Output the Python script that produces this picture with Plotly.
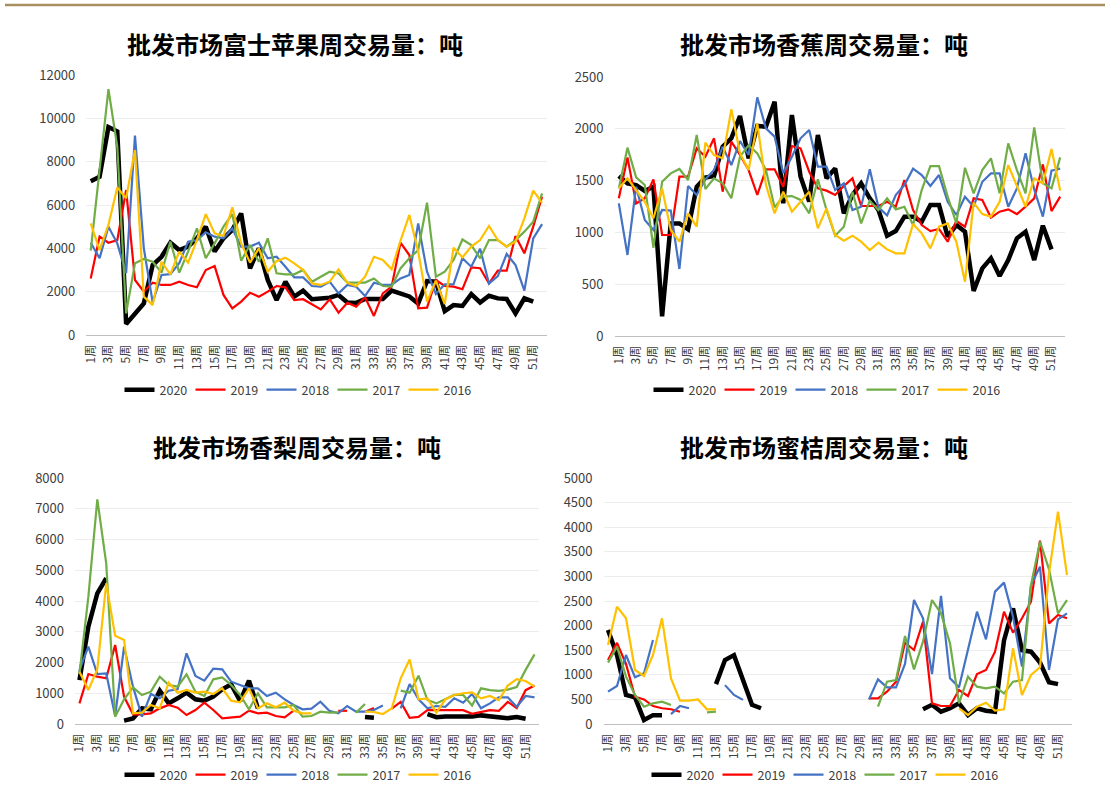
import plotly.graph_objects as go

# ---------------- data ----------------
weeks = [f"{i}周" for i in range(1, 53)]
tick_labels = weeks[::2]
years = ["2020", "2019", "2018", "2017", "2016"]
N = None

apple_2020 = [7100, 7300, 9600, 9400, 510, 1000, 1460, 3230, 3610, 4260, 3920, 4080, 4460, 5000, 3850, 4460, 4850, 5610, 3080, 4000,
              2540, 1610, 2460, 1770, 2050, 1650, 1660, 1720, 1850, 1500, 1480, 1660, 1660, 1660, 2050, 1900, 1780, 1450, 2490, 2460,
              1100, 1380, 1340, 1890, 1500, 1810, 1690, 1660, 1000, 1690, 1540, N]
apple_2019 = [2610, 4540, 4260, 4380, 6690, 2540, 2000, 2410, 2310, 2310, 2460, 2310, 2200, 3000, 3180, 1850, 1230, 1540, 1950, 1770,
              2000, 2260, 2200, 1610, 1650, 1400, 1180, 1650, 1030, 1490, 1310, 1740, 880, 1920, 2230, 4260, 3690, 1230, 1260, 2540,
              2260, 2230, 2110, 3120, 3080, 2380, 2970, 2970, 4570, 3770, 5000, 6380]
apple_2018 = [4260, 3540, 5000, 4230, 2850, 9200, 4000, 1500, 2770, 2810, 3310, 4310, 4380, 4740, 4540, 4460, 4920, 4080, 4080, 4260,
              3540, 3610, 3150, 2660, 2660, 2260, 2230, 2460, 1920, 2310, 2230, 1800, 2410, 2310, 2310, 2610, 2770, 5150, 2920, 1890,
              2340, 2350, 3540, 3150, 3980, 2380, 2720, 3740, 3230, 2050, 4460, 5120]
apple_2017 = [3890, 7500, 11350, 8690, 1000, 3310, 3510, 3380, 2880, 4310, 2880, 3850, 4920, 3540, 4230, 5000, 5580, 3430, 4150, 3380,
              4460, 2850, 2800, 2800, 3000, 2460, 2690, 2920, 2840, 2420, 2420, 2420, 2610, 2260, 2230, 3070, 3540, 3920, 6110, 2690,
              2920, 3460, 4410, 4150, 3540, 4380, 4380, 4080, 4380, 4770, 5230, 6540]
apple_2016 = [5150, 3920, 5080, 6810, 6310, 8540, 1770, 1380, 3380, 2800, 3850, 3340, 4380, 5580, 4690, 4570, 5890, 4230, 3340, 4000,
              2920, 3410, 3570, 3310, 3000, 2380, 2310, 2460, 3030, 2410, 2260, 2690, 3610, 3460, 3030, 4350, 5540, 3850, 1540, 2510,
              1430, 4030, 3580, 4080, 4380, 5030, 4380, 4080, 4310, 5380, 6660, 6100]

banana_2020 = [1544, 1473, 1457, 1400, 1440, 190, 1087, 1087, 1030, 1440, 1530, 1544, 1827, 1908, 2123, 1715, 2027, 2020, 2262, 1280,
               2133, 1538, 1297, 1940, 1522, 1618, 1184, 1361, 1473, 1329, 1216, 968, 1013, 1152, 1152, 1103, 1264, 1264, 959, 1071,
               1007, 434, 653, 750, 579, 733, 943, 1007, 733, 1065, 836, N]
banana_2019 = [1329, 1724, 1280, 1329, 1512, 975, 975, 1538, 1538, 1811, 1731, 1908, 1393, 1876, 1747, 1602, 1361, 1609, 1609, 1441,
               1834, 1811, 1586, 1425, 1403, 1361, 1448, 1522, 1255, 1255, 1255, 1296, 1248, 1506, 1216, 1071, 1013, 1033, 910, 1110,
               1055, 1329, 1313, 1142, 1200, 1222, 1177, 1248, 1329, 1657, 1206, 1345]
banana_2018 = [1280, 782, 1441, 1119, 1023, 1216, 1210, 647, 1448, 1361, 1512, 1602, 1827, 1650, 1882, 1747, 2303, 2004, 1924, 1570,
               1731, 1908, 1988, 1634, 1634, 1409, 1473, 1216, 1248, 1609, 1242, 1165, 1361, 1457, 1615, 1554, 1448, 1554, 1296, 1168,
               1345, 1248, 1489, 1570, 1570, 1248, 1425, 1763, 1415, 1152, 1596, 1615]
banana_2017 = [1425, 1818, 1531, 1457, 852, 1489, 1570, 1612, 1506, 1940, 1419, 1522, 1473, 1329, 1731, 1843, 1763, 1602, 1242, 1345,
               1351, 1313, 1184, 1512, 1216, 968, 1055, 1393, 1087, 1306, 1216, 1329, 1222, 1248, 1071, 1409, 1640, 1640, 1345, 1087,
               1624, 1377, 1602, 1715, 1377, 1859, 1602, 1377, 2014, 1473, 1425, 1724]
banana_2016 = [1425, 1522, 1409, 1296, 1136, 1425, 1023, 910, 1184, 1055, 1866, 1747, 1715, 2188, 1763, 1602, 2052, 1457, 1184, 1393,
               1200, 1296, 1393, 1039, 1232, 975, 920, 968, 910, 830, 901, 836, 798, 798, 1081, 991, 846, 1055, 1087, 910,
               524, 1287, 1177, 1152, 1296, 1650, 1457, 1248, 1522, 1473, 1805, 1403]

pear_2020 = [1430, 3165, 4250, 4740, N, 110, 180, 510, 477, 1084, 672, 835, 1019, 802, 759, 889, 1127, 1290, 748, 1409,
             509, N, N, N, N, N, N, N, N, N, N, N, 228, 200, N, N, N, N, N, 320,
             220, 240, 240, 240, 240, 280, 240, 200, 190, 230, 170, N]
pear_2019 = [672, 1626, 1539, 1485, 2569, 889, 314, 314, 347, 509, 618, 531, 293, 455, 694, 455, 184, 217, 238, 434,
             347, 369, 260, 217, 434, N, N, N, N, 430, 430, N, 400, 520, N, 500, 720, 200, 230, 450,
             450, 450, 450, 450, 330, 380, 450, 430, 720, 520, 1100, 1250]
pear_2018 = [1756, 2515, 1626, 1648, 260, 2515, 1214, 238, 976, 835, 1084, 1127, 2298, 1561, 1409, 1800, 1778, 1377, 1268, 1160,
             1160, 911, 1019, 802, 618, 477, 499, 727, 433, 347, 585, 400, 400, 455, 600, N, 510, 1300, 800, 510,
             585, 560, 835, 690, 975, 510, 670, 867, 867, 560, 910, 867]
pear_2017 = [1626, 4140, 7306, 5225, 238, 802, 1192, 943, 1051, 1539, 1268, 1214, 1615, 1051, 911, 1453, 1518, 1268, 943, 477,
             997, 542, 542, 542, 618, 238, 260, 400, 370, 380, N, 370, 650, N, N, N, 1084, 1020, 1570, 780,
             670, 800, 945, 945, 600, 1160, 1100, 1080, 1120, 1200, 1760, 2265]
pear_2016 = [1702, 1106, 1778, 4575, 2873, 2732, 347, 369, 618, 509, 1344, 1019, 1106, 1019, 1051, 976, 1160, 759, 705, 1160,
             509, 672, 542, 694, 434, 347, 347, N, N, N, N, N, 400, 390, 325, 510, 1485, 2100, 800, 835,
             370, 800, 945, 1000, 1030, 835, 910, 780, 1250, 1460, 1400, 1215]

mandarin_2020 = [1910, 1400, 590, 540, 80, 180, 180, N, N, N, N, N, 810, 1300, 1400, 900, 390, 320, N, N,
                 N, N, N, N, N, N, N, N, N, N, N, N, N, N, N, 300, 390, 250, 320, 420,
                 180, 320, 270, 250, 1700, 2350, 1500, 1470, 1250, 850, 810, N]
mandarin_2019 = [1300, 1650, 1220, 555, 500, 365, 320, 300, 250, N, N, N, N, N, N, N, N, N, N, N,
                 N, N, N, N, N, N, N, N, N, 522, 522, 657, 860, 1653, 1504, 2080, 420, 366, 366, 691,
                 569, 1016, 1098, 1470, 2283, 1856, 2148, 2486, 3726, 2046, 2215, 2148]
mandarin_2018 = [657, 772, 1402, 948, 1030, 1707, N, 200, 365, 320, N, N, N, 790, 590, 490, N, N, N, N,
                 N, N, N, N, N, N, N, N, N, 500, 908, 745, 745, 1220, 2520, 2148, 1016, 2602, 928, 745,
                 1504, 2283, 1721, 2690, 2873, 2182, 1165, 2825, 3198, 1098, 2127, 2249]
mandarin_2017 = [1247, 1572, 962, 590, 352, 420, 454, 386, N, N, N, 237, 250, N, N, N, N, N, N, N,
                 N, N, N, N, N, N, N, N, N, N, 352, 860, 894, 1789, 1111, 1673, 2520, 2249, 1640, 420,
                 962, 759, 725, 759, 623, 860, 894, 2825, 3706, 3144, 2249, 2520]
mandarin_2016 = [1606, 2385, 2148, 1098, 976, 1402, 2148, 928, 474, 474, 500, 298, 298, N, N, N, N, N, N, N,
                 N, N, N, N, N, N, N, N, N, N, N, N, N, N, N, N, N, N, N, 320,
                 183, 352, 433, 271, 298, 1538, 589, 996, 1152, 3062, 4316, 3028]

titles = ["批发市场富士苹果周交易量：吨", "批发市场香蕉周交易量：吨",
          "批发市场香梨周交易量：吨", "批发市场蜜桔周交易量：吨"]
panels = [
    [apple_2020, apple_2019, apple_2018, apple_2017, apple_2016],
    [banana_2020, banana_2019, banana_2018, banana_2017, banana_2016],
    [pear_2020, pear_2019, pear_2018, pear_2017, pear_2016],
    [mandarin_2020, mandarin_2019, mandarin_2018, mandarin_2017, mandarin_2016],
]
y_max = [12000, 2500, 8000, 5000]
y_step = [2000, 500, 1000, 500]

# ---------------- style / layout ----------------
W, H = 1105, 790
colors = ["#000000", "#FF0000", "#4472C4", "#70AD47", "#FFC000"]
widths = [4.5, 2.2, 2.2, 2.2, 2.2]
FONT = "Noto Sans CJK SC"

# plot boxes in pixels: (x_left, x_right, y_top, y_bottom)
boxes = [
    (86.3, 546.5, 75, 335),
    (614.5, 1064.5, 77, 336),
    (75.0, 539.0, 478, 724),
    (603.5, 1071.5, 478, 724),
]
title_pos = [(295, 44), (824, 44), (297, 446), (824, 446)]
legend_pos = [(297, 390), (826, 390), (297, 775), (824, 775)]

fig = go.Figure()
layout = dict(
    template="none",
    width=W, height=H, autosize=False,
    margin=dict(l=0, r=0, t=0, b=0, pad=0, autoexpand=False),
    paper_bgcolor="white", plot_bgcolor="white",
    font=dict(family=FONT, size=12, color="#404040"),
    showlegend=True,
    annotations=[], shapes=[],
)

for p in range(4):
    ax = "" if p == 0 else str(p + 1)
    lg = "legend" if p == 0 else f"legend{p + 1}"
    for s, yr in enumerate(years):
        fig.add_trace(go.Scatter(
            x=weeks, y=panels[p][s], name=yr, mode="lines",
            line=dict(color=colors[s], width=widths[s]),
            xaxis="x" + ax, yaxis="y" + ax, legend=lg,
            hoverinfo="skip",
        ))
    xl, xr, yt, yb = boxes[p]
    layout["xaxis" + ax] = dict(
        domain=[xl / W, xr / W], anchor="y" + ax,
        type="category", range=[-0.5, 51.5],
        tickmode="array", tickvals=tick_labels, ticktext=tick_labels,
        tickangle=-90, tickfont=dict(size=12, color="#404040", family=FONT),
        showline=True, linecolor="#BFBFBF", linewidth=1,
        showgrid=False, zeroline=False, ticks="", ticklabelstandoff=4,
        automargin=False, fixedrange=True,
    )
    layout["yaxis" + ax] = dict(
        domain=[1 - yb / H, 1 - yt / H], anchor="x" + ax,
        range=[0, y_max[p]], dtick=y_step[p], tick0=0, tickformat="d",
        showgrid=True, gridcolor="#EDEDED", gridwidth=1,
        zeroline=False, showline=False, ticks="",
        tickfont=dict(size=13, color="#404040", family=FONT),
        ticklabelstandoff=10, automargin=False, fixedrange=True,
    )
    tx, ty = title_pos[p]
    layout["annotations"].append(dict(
        text="<b>" + titles[p] + "</b>", x=tx / W, y=1 - ty / H,
        xref="paper", yref="paper", xanchor="center", yanchor="middle",
        showarrow=False, font=dict(size=24, color="#000000", family=FONT),
    ))
    lx, ly = legend_pos[p]
    layout[lg] = dict(
        orientation="h", x=lx / W, y=1 - ly / H, xanchor="center", yanchor="middle",
        font=dict(size=12.5, color="#404040", family=FONT),
        bgcolor="rgba(0,0,0,0)", borderwidth=0, itemclick=False, itemdoubleclick=False,
        tracegroupgap=0, entrywidth=26, itemwidth=30,
    )

layout["shapes"].append(dict(
    type="line", xref="paper", yref="paper", x0=5 / W, x1=1, y0=1 - 5 / H, y1=1 - 5 / H,
    line=dict(color="#A8915F", width=2.5),
))

fig.update_layout(**layout)
fig.write_html("out.html", config={"displayModeBar": False},
               post_script="document.body.style.margin='0';")
